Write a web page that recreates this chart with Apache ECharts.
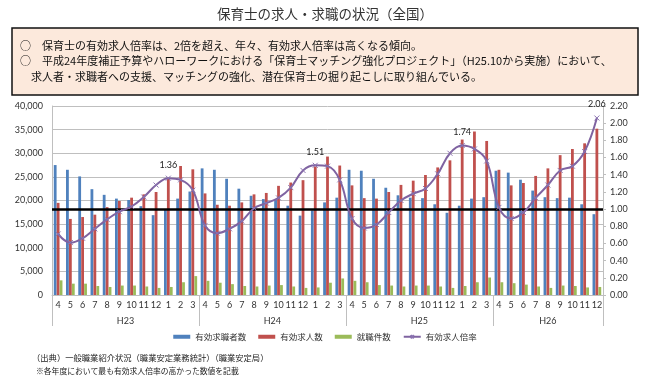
<!DOCTYPE html>
<html><head><meta charset="utf-8">
<script src="https://cdn.jsdelivr.net/npm/echarts@6/dist/echarts.min.js"></script>
<style>html,body{margin:0;padding:0;background:#fff}#c{width:650px;height:383px}</style>
</head><body><div id="c"></div>
<script>
var months = ['4','5','6','7','8','9','10','11','12','1','2','3',
              '4','5','6','7','8','9','10','11','12','1','2','3',
              '4','5','6','7','8','9','10','11','12','1','2','3',
              '4','5','6','7','8','9','10','11','12'];
var years = ['H23','H24','H25','H26'];
var yearSizes = [12,12,12,9];
var seekers = [27500,26500,25100,22400,21200,20400,20100,18800,16900,18000,20400,21900,
               26800,26500,24600,22500,21000,20300,20300,18900,16800,17900,19600,20600,
               26500,26300,24600,22700,21100,20600,20500,19200,17400,18900,20400,20700,
               26300,25900,24400,22100,20700,20500,20600,19200,17100];
var openings = [19500,16100,16500,17000,18600,19900,20600,21300,21800,24600,27300,26600,
                21500,19100,18900,19600,21300,21600,23100,23800,24300,27200,29300,27400,
                23200,20500,20400,21800,23300,24200,25400,27000,28500,32900,34600,32600,
                26500,23200,23700,25200,26800,29600,30900,32100,35200];
var placements = [3100,2400,2400,1900,1700,2000,2000,1800,1500,1700,2700,4000,
                  3000,2600,2300,1900,1800,2000,2100,1800,1500,1600,2600,3500,
                  3000,2700,2100,2000,1800,2000,2000,1800,1500,1900,2700,3700,
                  2700,2500,2200,1800,1500,2000,1900,1600,1700];
var ratio = [0.71,0.61,0.66,0.77,0.88,0.97,1.03,1.14,1.28,1.36,1.34,1.22,
             0.81,0.72,0.77,0.86,1.01,1.07,1.13,1.25,1.45,1.51,1.50,1.34,
             0.89,0.78,0.82,0.96,1.10,1.18,1.24,1.41,1.65,1.74,1.70,1.56,
             1.02,0.89,0.96,1.13,1.28,1.45,1.50,1.67,2.06];
var ratioLabelIdx = [9,21,33,44];
var seriesNames = ['有効求職者数','有効求人数','就職件数','有効求人倍率'];
var titleText = '保育士の求人・求職の状況（全国）';
var boxLines = ['○　保育士の有効求人倍率は、2倍を超え、年々、有効求人倍率は高くなる傾向。',
                '○　平成24年度補正予算やハローワークにおける「保育士マッチング強化プロジェクト」（H25.10から実施）において、',
                '　求人者・求職者への支援、マッチングの強化、潜在保育士の掘り起こしに取り組んでいる。'];
var notes = ['（出典）一般職業紹介状況（職業安定業務統計）（職業安定局）',
             '※各年度において最も有効求人倍率の高かった数値を記載'];

var bounds = [0], centers = [];
yearSizes.forEach(function(s){ var b = bounds[bounds.length-1]; centers.push(b + s/2); bounds.push(b + s); });

var FONT = 'Lato, "Noto Sans CJK JP", sans-serif';
var JP = '"Noto Sans CJK JP", sans-serif';
var grey = '#bfbfbf';

var chart = echarts.init(document.getElementById('c'), null, {renderer:'canvas'});
chart.setOption({
  animation: false,
  textStyle: {fontFamily: FONT},
  title: {text: titleText, left: 'center', top: 2,
    textStyle: {fontFamily: JP, fontSize: 13.5, fontWeight: 'normal', color: '#333'}},
  graphic: [
    {type:'rect', shape:{x:12, y:28, width:626, height:67}, style:{fill:'#fce9dc', stroke:'#111', lineWidth:1.5}, z:0},
    {type:'text', x:20, y:40, style:{text: boxLines[0], font:'11px "Noto Sans CJK JP"', fill:'#111'}},
    {type:'text', x:20, y:55, style:{text: boxLines[1], font:'11px "Noto Sans CJK JP"', fill:'#111'}},
    {type:'text', x:20, y:71, style:{text: boxLines[2], font:'11px "Noto Sans CJK JP"', fill:'#111'}},
    {type:'text', x:32, y:354, style:{text: notes[0], font:'8.3px "Noto Sans CJK JP"', fill:'#222'}},
    {type:'text', x:36, y:367, style:{text: notes[1], font:'7.8px "Noto Sans CJK JP"', fill:'#222'}}
  ],
  legend: {bottom: 37, left: 'center', itemWidth: 17, itemHeight: 4, itemGap: 12,
    textStyle: {fontFamily: JP, fontSize: 8.5, color: '#333'},
    data: [{name: seriesNames[0], icon:'rect'},{name: seriesNames[1], icon:'rect'},{name: seriesNames[2], icon:'rect'},{name: seriesNames[3]}]},
  grid: {left: 52, right: 47, top: 106, bottom: 88},
  xAxis: [
    {type:'category', data: months, boundaryGap: true,
     axisLine: {lineStyle:{color: grey}}, axisTick: {show:false},
     axisLabel: {interval:0, fontSize: 9, color:'#333', margin: 6}},
    {type:'value', min:0, max: bounds[bounds.length-1], position:'bottom',
     axisLine: {show:false}, splitLine: {show:false},
     axisTick: {show:true, customValues: bounds, length: 31, lineStyle:{color: grey}},
     axisLabel: {customValues: centers, fontSize: 9, color:'#333', margin: 22,
       formatter: function(v){ var i = centers.indexOf(v); return i >= 0 ? years[i] : ''; }}}
  ],
  yAxis: [
    {type:'value', min:0, max:40000, interval:5000,
     axisLine: {show:true, lineStyle:{color: grey}}, axisTick:{show:false},
     splitLine: {lineStyle:{color: grey}},
     axisLabel: {fontSize: 9, color:'#333', margin: 9,
       formatter: function(v){ return v.toString().replace(/\B(?=(\d{3})+(?!\d))/g, ','); }}},
    {type:'value', min:0, max:2.2, interval:0.2, position:'right',
     axisLine: {show:true, lineStyle:{color: grey}}, axisTick:{show:true, length:3, lineStyle:{color: grey}},
     splitLine: {show:false},
     axisLabel: {fontSize: 9, color:'#333', margin: 7, formatter: function(v){ return v.toFixed(2); }}}
  ],
  series: [
    {name: seriesNames[0], type:'bar', data: seekers, barWidth: 2.8, barGap: '5%', itemStyle:{color:'#4f81bd'}},
    {name: seriesNames[1], type:'bar', data: openings, barWidth: 2.8, barGap: '5%', itemStyle:{color:'#c0504d'}},
    {name: seriesNames[2], type:'bar', data: placements, barWidth: 2.8, barGap: '5%', itemStyle:{color:'#9bbb59'}},
    {name: seriesNames[3], type:'line', yAxisIndex:1, smooth: 0.4, z: 5,
     data: ratio.map(function(v, i){
       return ratioLabelIdx.indexOf(i) >= 0
         ? {value: v, label:{show:true, position:'top', distance: 6, fontSize: 9, color:'#222', formatter: function(p){ return p.value.toFixed(2); }}}
         : v; }),
     symbol: 'path://M0,0L10,10M10,0L0,10', symbolSize: 5,
     lineStyle: {color:'#7f63a1', width: 2},
     itemStyle: {color:'#8a72b0', borderColor:'#8a72b0', borderWidth: 1},
     markLine: {silent:true, symbol:'none', label:{show:false},
       lineStyle:{color:'#000', width:2.5, type:'solid'},
       data:[{yAxis: 1.0}]}}
  ]
});
</script></body></html>
